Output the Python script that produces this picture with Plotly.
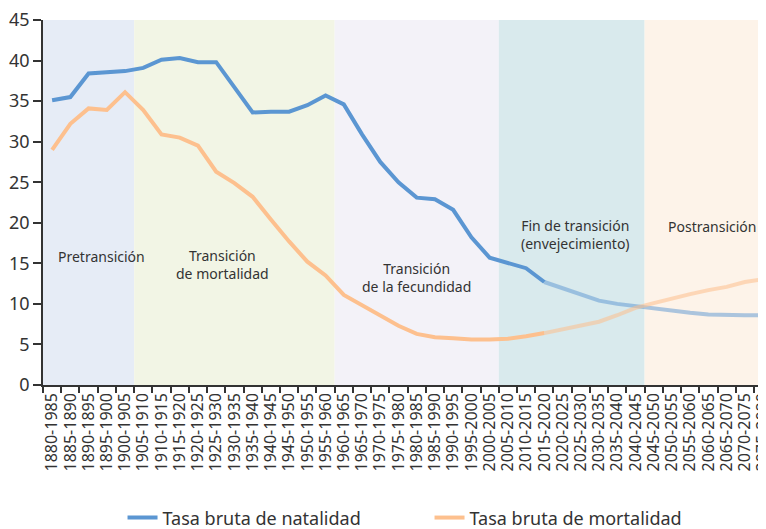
import plotly.graph_objects as go

categories = [
    "1880-1985", "1885-1890", "1890-1895", "1895-1900", "1900-1905",
    "1905-1910", "1910-1915", "1915-1920", "1920-1925", "1925-1930",
    "1930-1935", "1935-1940", "1940-1945", "1945-1950", "1950-1955",
    "1955-1960", "1960-1965", "1965-1970", "1970-1975", "1975-1980",
    "1980-1985", "1985-1990", "1990-1995", "1995-2000", "2000-2005",
    "2005-2010", "2010-2015", "2015-2020", "2020-2025", "2025-2030",
    "2030-2035", "2035-2040", "2040-2045", "2045-2050", "2050-2055",
    "2055-2060", "2060-2065", "2065-2070", "2070-2075", "2075-2080",
]

natalidad = [
    35.1, 35.5, 38.4, 38.5, 38.7, 39.1, 40.1, 40.3, 39.8, 39.8,
    36.7, 33.6, 33.7, 33.7, 34.5, 35.7, 34.6, 30.9, 27.5, 25.0,
    23.1, 22.9, 21.6, 18.2, 15.7, 15.1, 14.4, 12.7, 11.9, 11.1,
    10.4, 10.0, 9.7, 9.5, 9.1, 8.9, 8.7, 8.6, 8.6, 8.6,
]

mortalidad = [
    29.0, 32.2, 34.1, 33.9, 36.1, 33.9, 30.9, 30.5, 29.5, 26.3,
    24.9, 23.2, 20.4, 17.7, 15.2, 13.5, 11.1, 9.8, 8.5, 7.3,
    6.3, 5.9, 5.75, 5.6, 5.6, 5.7, 6.0, 6.4, 6.9, 7.3,
    7.8, 8.6, 9.5, 10.1, 10.7, 11.2, 11.7, 12.1, 12.7, 13.05,
]

# last observed period (projection afterwards)
last_obs = "2015-2020"

stage_names = [
    "Pretransición",
    "Transición<br>de mortalidad",
    "Transición<br>de la fecundidad",
    "Fin de transición<br>(envejecimiento)",
    "Postransición",
]
stage_start = ["1880-1985", "1905-1910", "1960-1965", "2005-2010", "2045-2050"]
stage_end = ["1900-1905", "1955-1960", "2000-2005", "2040-2045", "2075-2080"]
stage_colors = ["#e6ecf6", "#f2f5e5", "#f3f2f8", "#d9eaed", "#fdf3e9"]
# label anchor (category position, value)
stage_label_x = [2.72, 9.36, 20.0, 28.7, 36.2]
stage_label_y = [15.8, 14.8, 13.3, 18.6, 19.6]

y_ticks = [0, 5, 10, 15, 20, 25, 30, 35, 40, 45]

BLUE = "#5b96d2"
ORANGE = "#fdc08e"
FONT = "Noto Sans"

k = categories.index(last_obs)

fig = go.Figure()

shapes = []
for s, e, c in zip(stage_start, stage_end, stage_colors):
    x0 = categories.index(s) - 0.5
    x1 = categories.index(e) + 0.5
    if e == categories[-1]:
        x1 = categories.index(e) + 1.5
    shapes.append(dict(type="rect", xref="x", yref="y", x0=x0, x1=x1, y0=0, y1=45,
                       fillcolor=c, line=dict(width=0), layer="below"))

# projections (lighter)
fig.add_trace(go.Scatter(x=categories[k:], y=natalidad[k:], mode="lines",
                         line=dict(color=BLUE, width=4), opacity=0.5,
                         showlegend=False, hoverinfo="skip"))
fig.add_trace(go.Scatter(x=categories[k:], y=mortalidad[k:], mode="lines",
                         line=dict(color=ORANGE, width=4), opacity=0.55,
                         showlegend=False, hoverinfo="skip"))
# observed
fig.add_trace(go.Scatter(x=categories[:k + 1], y=natalidad[:k + 1], mode="lines",
                         line=dict(color=BLUE, width=4),
                         name="Tasa bruta de natalidad"))
fig.add_trace(go.Scatter(x=categories[:k + 1], y=mortalidad[:k + 1], mode="lines",
                         line=dict(color=ORANGE, width=4),
                         name="Tasa bruta de mortalidad"))

annotations = []
for name, lx, ly in zip(stage_names, stage_label_x, stage_label_y):
    annotations.append(dict(x=lx, y=ly, xref="x", yref="y", text=name,
                            showarrow=False, align="center",
                            font=dict(family=FONT, size=14, color="#333333")))

# the page body has an 8px margin, so the figure is sized to fill the rest
fig.update_layout(
    width=758, height=521,
    margin=dict(l=35, r=0, t=12, b=144, autoexpand=False),
    paper_bgcolor="white", plot_bgcolor="white",
    font=dict(family=FONT, color="#333333"),
    shapes=shapes,
    annotations=annotations,
    legend=dict(orientation="h", x=0.11, xanchor="left", y=-0.364, yanchor="middle",
                font=dict(family=FONT, size=18, color="#333333"),
                entrywidth=262, entrywidthmode="pixels", itemwidth=30),
    xaxis=dict(type="category", categoryorder="array", categoryarray=categories,
               tickmode="array", tickvals=categories, ticktext=categories,
               range=[-0.5, 39.16], showgrid=False, zeroline=False, automargin=False,
               showline=True, linecolor="#333333", linewidth=1.5,
               ticks="outside", tickson="boundaries", ticklen=6,
               tickcolor="#333333", tickwidth=1.5,
               tickangle=-90, tickfont=dict(family=FONT, size=16, color="#333333")),
    yaxis=dict(range=[0, 45], tickmode="array", tickvals=y_ticks,
               showgrid=False, zeroline=False, automargin=False,
               ticklabeloverflow="allow",
               showline=True, linecolor="#333333", linewidth=1.5,
               ticks="outside", ticklen=8, tickcolor="#333333", tickwidth=1.5,
               tickfont=dict(family=FONT, size=18, color="#333333")),
)

fig.write_html("out.html")
